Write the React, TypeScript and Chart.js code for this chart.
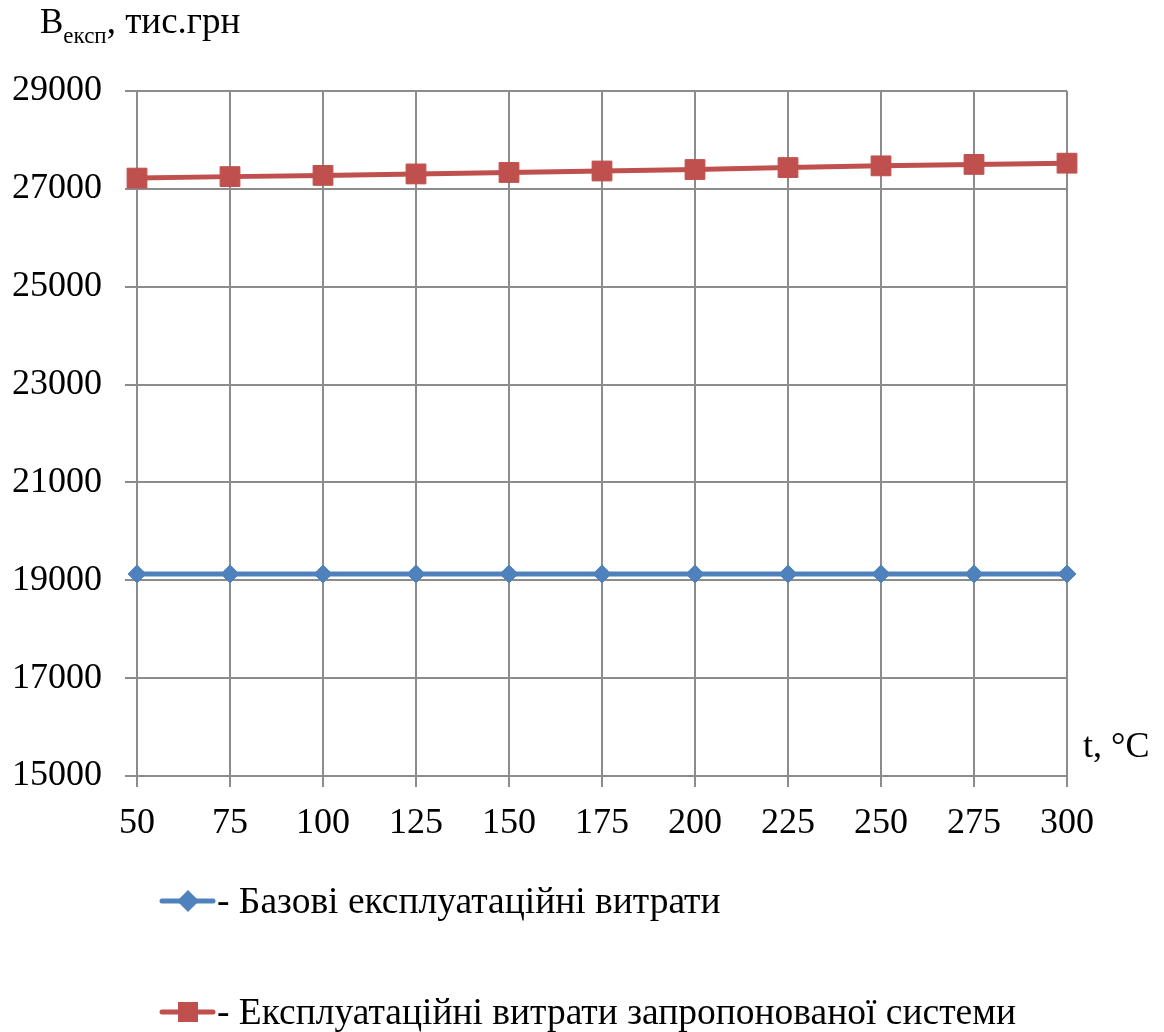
import { useEffect, useRef } from "react";
import { Chart, registerables } from "chart.js";

Chart.register(...registerables);

// Temperature, °C
const temperatures = [50, 75, 100, 125, 150, 175, 200, 225, 250, 275, 300];
// Operating costs, thousand UAH
const baseCosts = [19130, 19130, 19130, 19130, 19130, 19130, 19130, 19130, 19130, 19130, 19130];
const proposedCosts = [27220, 27250, 27275, 27305, 27335, 27365, 27395, 27435, 27470, 27500, 27525];
const seriesLabels = ["- Базові експлуатаційні витрати", "- Експлуатаційні витрати запропонованої системи"];
const yTicks = [15000, 17000, 19000, 21000, 23000, 25000, 27000, 29000];

const BLUE = "#4F81BD";
const RED = "#C0504D";
const GRID = "#8c8c8c";
const FONT = "'Liberation Serif', 'Times New Roman', serif";

const annotations = {
  id: "annotations",
  afterDraw(chart: any) {
    const ctx = chart.ctx as CanvasRenderingContext2D;
    ctx.save();
    ctx.fillStyle = "#000";
    ctx.textBaseline = "alphabetic";
    ctx.textAlign = "left";

    // axis title with subscript
    ctx.font = `35px ${FONT}`;
    ctx.fillText("B", 40, 33);
    let x = 40 + ctx.measureText("B").width;
    ctx.font = `23px ${FONT}`;
    ctx.fillText("експ", x, 43);
    x += ctx.measureText("експ").width;
    ctx.font = `37px ${FONT}`;
    ctx.fillText(", тис.грн", x, 33);

    // x axis unit
    ctx.font = `36px ${FONT}`;
    ctx.fillText("t, °C", 1083, 757);

    // legend entries: line with marker plus caption
    const entries = [
      { color: BLUE, y: 901, style: "diamond", text: seriesLabels[0] },
      { color: RED, y: 1012, style: "square", text: seriesLabels[1] },
    ];
    for (const e of entries) {
      ctx.strokeStyle = e.color;
      ctx.lineWidth = 5;
      ctx.lineCap = "round";
      ctx.beginPath();
      ctx.moveTo(162, e.y);
      ctx.lineTo(213, e.y);
      ctx.stroke();
      ctx.fillStyle = e.color;
      ctx.beginPath();
      if (e.style === "diamond") {
        const cx = 188, r = 11;
        ctx.moveTo(cx - r, e.y);
        ctx.lineTo(cx, e.y - r);
        ctx.lineTo(cx + r, e.y);
        ctx.lineTo(cx, e.y + r);
        ctx.closePath();
      } else {
        ctx.rect(178, e.y - 10, 20, 20);
      }
      ctx.fill();
      ctx.fillStyle = "#000";
      ctx.font = `37.5px ${FONT}`;
      ctx.fillText(e.text, 217, e.y + 12);
    }
    ctx.restore();
  },
};

export default function App() {
  const ref = useRef<HTMLCanvasElement>(null);

  useEffect(() => {
    if (!ref.current) return;
    const chart = new Chart(ref.current, {
      type: "line",
      data: {
        datasets: [
          {
            label: seriesLabels[0],
            data: temperatures.map((t, i) => ({ x: t, y: baseCosts[i] })),
            borderColor: BLUE,
            backgroundColor: BLUE,
            borderWidth: 5,
            pointStyle: "rectRot",
            pointRadius: 9,
            pointBorderWidth: 1,
            clip: false,
          },
          {
            label: seriesLabels[1],
            data: temperatures.map((t, i) => ({ x: t, y: proposedCosts[i] })),
            borderColor: RED,
            backgroundColor: RED,
            borderWidth: 5,
            pointStyle: "rect",
            pointRadius: 14,
            pointBorderWidth: 1,
            clip: false,
          },
        ],
      },
      options: {
        animation: false,
        responsive: false,
        layout: { padding: { left: 0, right: 97, top: 91, bottom: 196 } },
        plugins: { legend: { display: false }, tooltip: { enabled: false } },
        scales: {
          x: {
            type: "linear",
            min: temperatures[0],
            max: temperatures[temperatures.length - 1],
            afterBuildTicks: (scale: any) => {
              scale.ticks = temperatures.map((v) => ({ value: v }));
            },
            afterFit: (scale: any) => {
              scale.height = 60;
            },
            grid: { color: GRID, lineWidth: 2, tickLength: 11, tickColor: GRID },
            border: { color: GRID, width: 2 },
            ticks: {
              color: "#000",
              font: { family: FONT, size: 36 },
              padding: 15,
              maxRotation: 0,
              autoSkip: false,
            },
          },
          y: {
            min: yTicks[0],
            max: yTicks[yTicks.length - 1],
            afterBuildTicks: (scale: any) => {
              scale.ticks = yTicks.map((v) => ({ value: v }));
            },
            afterFit: (scale: any) => {
              scale.width = 137;
            },
            grid: { color: GRID, lineWidth: 2, tickLength: 12, tickColor: GRID },
            border: { color: GRID, width: 2 },
            ticks: {
              color: "#000",
              font: { family: FONT, size: 36 },
              padding: 23,
              callback: (v: any) => String(v),
            },
          },
        },
      },
      plugins: [annotations],
    });
    return () => chart.destroy();
  }, []);

  return (
    <div style={{ position: "absolute", left: 0, top: 0, width: 1164, height: 1032, background: "#fff" }}>
      <canvas ref={ref} width={1164} height={1032} style={{ width: 1164, height: 1032 }} />
    </div>
  );
}
